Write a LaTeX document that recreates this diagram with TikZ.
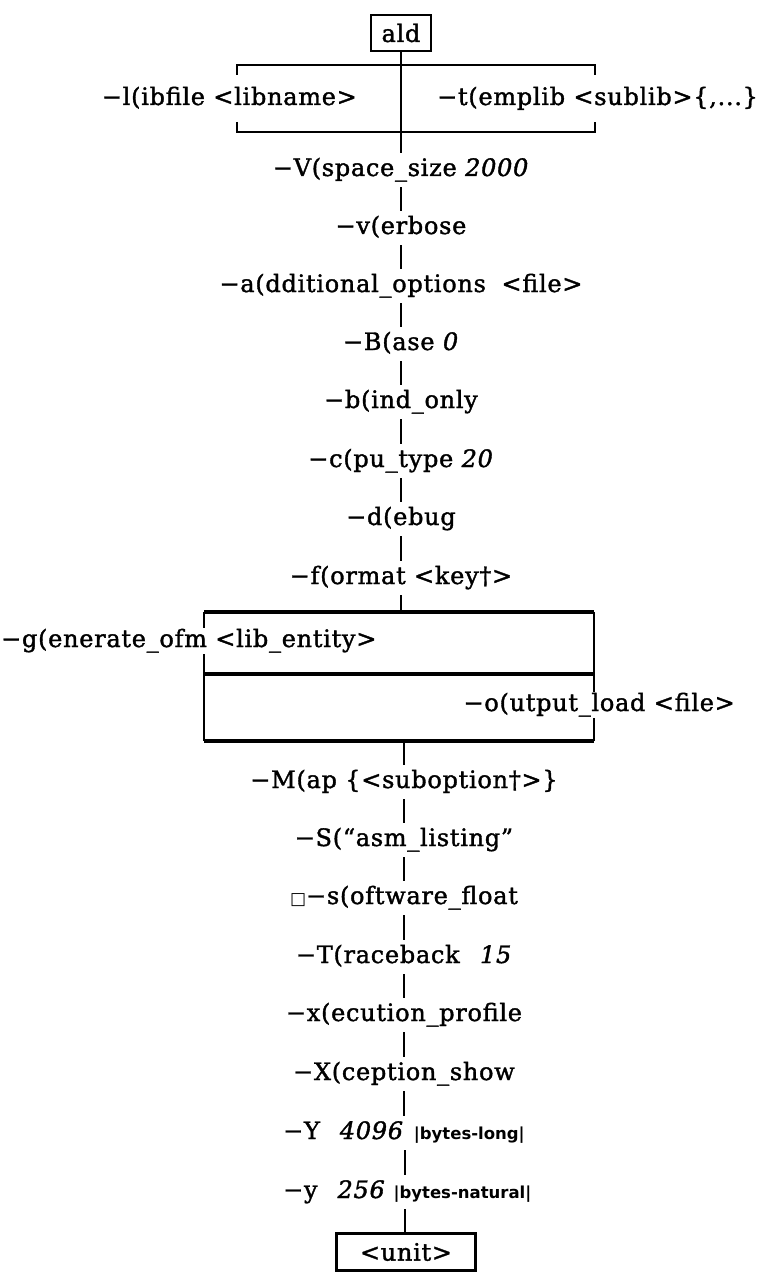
\documentclass[tikz,border=0pt]{standalone}
\usepackage{fontspec}
\setmainfont{DejaVu Serif}[LetterSpace=3,
  BoldFont={DejaVu Serif}, BoldFeatures={FakeBold=1.5},
  BoldItalicFont={DejaVu Serif Italic}, BoldItalicFeatures={FakeBold=1.5}]
\newfontfamily\bytesfont{DejaVu Sans}
\newfontfamily\symbfont{DejaVu Sans}
\newcommand\myopt{\fontsize{24}{28}\selectfont\bfseries}
\newcommand\mybytes{\bytesfont\bfseries\fontsize{16.5}{18}\selectfont}
\tikzset{
  opt/.style={font=\myopt, inner xsep=1pt, inner ysep=6pt, text height=17pt, text depth=5pt},
  gopt/.style={opt, fill=white, inner ysep=2pt},
  conn/.style={line width=2.6pt},
  brk/.style={line width=2.6pt},
  heavy/.style={line width=3.2pt},
  side/.style={line width=2.4pt},
  boxed/.style={draw, line width=2.8pt, font=\myopt, inner sep=2pt}
}
\begin{document}
\begin{tikzpicture}[x=1pt,y=-1pt]
\useasboundingbox (0,0) rectangle (762,1273);
% top
\node[boxed, minimum width=60pt, minimum height=36pt] (ald) at (401,33) {ald};
\node[opt, anchor=east] (nl) at (358,99) {−l(ibfile <libname>};
\node[opt, anchor=west] (nt) at (436,99) {−t(emplib <sublib>\{,...\}};
\coordinate (btl) at (237,65);
\coordinate (btr) at (595,65);
\coordinate (bbl) at (237,132);
\coordinate (bbr) at (595,132);
\draw[brk] ([yshift=-10pt]btl) -- (btl) -- (btr) -- ([yshift=-10pt]btr);
\draw[brk] ([yshift=10pt]bbl) -- (bbl) -- (bbr) -- ([yshift=10pt]bbr);
% main column
\node[opt] (nV) at (401,170) {−V(space\_size \textit{2000}};
\node[opt] (nv) at (401,228) {−v(erbose};
\node[opt] (na) at (401,286) {−a(dditional\_options\hspace{0.3em} <file>};
\node[opt] (nB) at (401,344) {−B(ase \textit{0}};
\node[opt] (nb) at (401,402) {−b(ind\_only};
\node[opt] (nc) at (401,461) {−c(pu\_type \textit{20}};
\node[opt] (nd) at (401,519) {−d(ebug};
\node[opt] (nf) at (401,578) {−f(ormat <key†>};
\draw[conn] (ald.south) -- (ald.south |- nV.north);
\draw[conn] (nV.south) -- (nv.north);
\draw[conn] (nv.south) -- (na.north);
\draw[conn] (na.south) -- (nB.north);
\draw[conn] (nB.south) -- (nb.north);
\draw[conn] (nb.south) -- (nc.north);
\draw[conn] (nc.south) -- (nd.north);
\draw[conn] (nd.south) -- (nf.north);
% g / o box
\coordinate (gtl) at (204,612);
\coordinate (gtr) at (594,612);
\coordinate (gml) at (204,674);
\coordinate (gmr) at (594,674);
\coordinate (gbl) at (204,741);
\coordinate (gbr) at (594,741);
\draw[side] (gtl) -- (gbl);
\draw[side] (gtr) -- (gbr);
\draw[heavy] (gtl) -- (gtr);
\draw[heavy] (gml) -- (gmr);
\draw[heavy] (gbl) -- (gbr);
\node[gopt, anchor=west] (ng) at (0,641) {−g(enerate\_ofm <lib\_entity>};
\node[gopt, anchor=east] (no) at (736,705) {−o(utput\_load <file>};
\draw[conn] (nf.south) -- (nf.south |- gtl);
% lower column
\node[opt] (nM) at (404,782) {−M(ap \{<suboption†>\}};
\node[opt] (nS) at (404,840) {−S(“asm\_listing”};
\node[opt] (ns) at (404,898) {{\symbfont\fontsize{17}{17}\selectfont □}−s(oftware\_float};
\node[opt] (nT) at (404,957) {−T(raceback\hspace{0.5em} \textit{15}};
\node[opt] (nx) at (404,1015) {−x(ecution\_profile};
\node[opt] (nX) at (404,1074) {−X(ception\_show};
\node[opt, anchor=west] (nY) at (282,1133) {−Y\hspace{20pt}\textit{4096}\hspace{10pt}{\mybytes |bytes-long|}};
\node[opt, anchor=west] (ny) at (282,1192) {−y\hspace{20pt}\textit{256}\hspace{8pt}{\mybytes |bytes-natural|}};
\node[boxed, minimum width=139pt, minimum height=37pt] (unit) at (406,1252) {<unit>};
\coordinate (ax) at (405,0);
\draw[conn] (nM.north |- gbl) -- (nM.north);
\draw[conn] (nM.south) -- (nS.north);
\draw[conn] (nS.south) -- (ns.north);
\draw[conn] (ns.south) -- (nT.north);
\draw[conn] (nT.south) -- (nx.north);
\draw[conn] (nx.south) -- (nX.north);
\draw[conn] (nX.south) -- (nX.south |- nY.north);
\draw[conn] (nY.south -| ax) -- (ny.north -| ax);
\draw[conn] (ny.south -| ax) -- (unit.north -| ax);
\end{tikzpicture}
\end{document}
